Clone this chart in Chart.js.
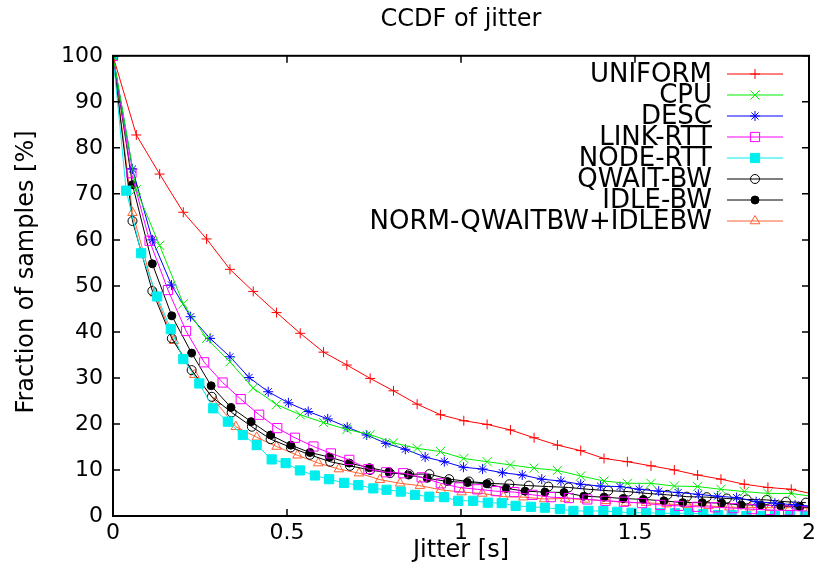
<!DOCTYPE html>
<html>
<head>
<meta charset="utf-8">
<title>CCDF of jitter</title>
<script src="https://cdn.jsdelivr.net/npm/chart.js@4.4.0/dist/chart.umd.min.js"></script>
<style>
  body { margin: 0; background: #fff; }
  canvas { display: block; }
</style>
</head>
<body>
<canvas id="ccdfChart" width="823" height="582"></canvas>
<script>
// values (x = jitter in s, y = fraction of samples in %)
const uniformX = [0, 0.067, 0.134, 0.202, 0.269, 0.336, 0.403, 0.470, 0.538, 0.605, 0.672, 0.739, 0.806, 0.874, 0.941, 1.008, 1.075, 1.142, 1.210, 1.277, 1.344, 1.411, 1.478, 1.546, 1.613, 1.680, 1.747, 1.814, 1.882, 1.949, 2.016];
const uniformY = [100, 82.8, 74.3, 66.0, 60.2, 53.6, 48.8, 44.2, 39.7, 35.6, 32.8, 29.9, 27.2, 24.3, 22.0, 20.7, 19.9, 18.7, 17.0, 15.4, 14.2, 12.5, 11.8, 10.9, 10.0, 8.9, 8.0, 6.9, 6.2, 5.8, 4.7];

const cpuX = [0, 0.067, 0.134, 0.202, 0.269, 0.336, 0.403, 0.470, 0.538, 0.605, 0.672, 0.739, 0.806, 0.874, 0.941, 1.008, 1.075, 1.142, 1.210, 1.277, 1.344, 1.411, 1.478, 1.546, 1.613, 1.680, 1.747, 1.814, 1.882, 1.949, 2.016];
const cpuY = [100, 70.9, 58.8, 46.1, 38.6, 33.5, 27.8, 24.2, 22.0, 20.3, 18.8, 17.7, 15.9, 14.7, 14.0, 12.5, 11.8, 11.1, 10.4, 9.9, 8.7, 7.6, 7.1, 7.1, 6.5, 6.4, 5.8, 5.3, 4.9, 4.9, 4.2];

const descX = [0, 0.056, 0.113, 0.168, 0.223, 0.279, 0.336, 0.391, 0.446, 0.504, 0.561, 0.617, 0.673, 0.729, 0.784, 0.840, 0.897, 0.952, 1.007, 1.062, 1.119, 1.176, 1.232, 1.287, 1.344, 1.401, 1.457, 1.512, 1.568, 1.624, 1.682, 1.737, 1.792, 1.848, 1.902, 1.960, 2.015];
const descY = [100, 75.4, 60.0, 50.2, 43.3, 38.6, 34.6, 30.1, 27.0, 24.6, 22.7, 21.1, 19.3, 17.6, 15.8, 14.5, 12.8, 11.8, 10.6, 10.2, 9.4, 8.9, 8.0, 7.6, 6.9, 6.5, 6.4, 5.8, 5.4, 5.1, 4.7, 4.3, 4.0, 3.1, 2.8, 2.4, 2.1];

const linkX = [0, 0.053, 0.105, 0.158, 0.210, 0.262, 0.315, 0.367, 0.420, 0.472, 0.523, 0.576, 0.626, 0.679, 0.734, 0.785, 0.834, 0.887, 0.942, 0.995, 1.047, 1.100, 1.153, 1.206, 1.258, 1.310, 1.363, 1.415, 1.468, 1.520, 1.573, 1.626, 1.678, 1.730, 1.783, 1.836, 1.888, 1.940, 1.993];
const linkY = [100, 74.5, 59.8, 49.1, 40.2, 33.4, 29.0, 25.4, 22.0, 19.1, 17.0, 15.1, 13.6, 12.2, 10.2, 9.5, 9.3, 8.4, 7.1, 6.2, 5.8, 5.4, 5.2, 4.6, 4.1, 3.9, 3.6, 3.3, 3.1, 2.8, 2.4, 2.2, 2.0, 1.9, 1.7, 1.5, 1.3, 1.2, 1.1];

const nodeX = [0, 0.038, 0.081, 0.127, 0.166, 0.202, 0.248, 0.288, 0.330, 0.373, 0.413, 0.456, 0.496, 0.537, 0.580, 0.621, 0.664, 0.705, 0.748, 0.786, 0.827, 0.868, 0.909, 0.951, 0.992, 1.035, 1.077, 1.117, 1.157, 1.201, 1.241, 1.284, 1.323, 1.366, 1.409, 1.449, 1.490, 1.532, 1.572, 1.615, 1.655, 1.696, 1.739, 1.778, 1.820, 1.861, 1.902, 1.945, 1.989];
const nodeY = [100, 70.7, 57.1, 47.7, 40.6, 34.1, 28.8, 23.4, 20.5, 17.6, 15.4, 12.3, 11.5, 9.9, 8.8, 8.0, 7.2, 6.7, 6.0, 5.7, 5.3, 4.6, 4.2, 4.1, 3.3, 3.3, 2.9, 2.8, 2.2, 2.0, 1.8, 1.5, 1.1, 1.1, 1.1, 0.9, 0.7, 0.7, 0.6, 0.6, 0.6, 0.4, 0.2, 0.2, 0, 0, 0, 0, 0];

const qwaitX = [0, 0.056, 0.113, 0.169, 0.226, 0.284, 0.341, 0.399, 0.453, 0.511, 0.566, 0.624, 0.681, 0.739, 0.796, 0.851, 0.909, 0.966, 1.023, 1.080, 1.139, 1.195, 1.251, 1.309, 1.366, 1.423, 1.481, 1.535, 1.593, 1.649, 1.706, 1.764, 1.821, 1.878, 1.934, 1.991];
const qwaitY = [100, 64.1, 48.9, 38.6, 31.7, 25.9, 22.5, 19.4, 16.7, 14.9, 13.3, 11.8, 10.9, 10.0, 9.3, 9.1, 9.1, 8.0, 7.5, 7.1, 6.9, 6.6, 6.4, 6.2, 5.8, 5.5, 5.3, 4.9, 4.6, 4.2, 4.1, 3.8, 3.6, 3.5, 3.1, 2.9];

const idleX = [0, 0.056, 0.113, 0.169, 0.226, 0.282, 0.339, 0.397, 0.453, 0.511, 0.566, 0.622, 0.679, 0.737, 0.793, 0.849, 0.903, 0.961, 1.018, 1.074, 1.130, 1.184, 1.241, 1.296, 1.353, 1.411, 1.466, 1.524, 1.583, 1.637, 1.693, 1.749, 1.805, 1.861, 1.919, 1.974, 2.031];
const idleY = [100, 72.0, 54.8, 43.5, 35.4, 28.3, 23.6, 20.5, 17.6, 15.4, 13.8, 12.8, 11.5, 10.5, 9.6, 8.9, 8.2, 7.5, 7.3, 7.0, 6.0, 5.4, 5.2, 5.1, 4.3, 4.1, 3.8, 3.6, 3.3, 2.9, 2.9, 2.8, 2.4, 2.4, 2.2, 2.0, 1.9];

const normX = [0, 0.056, 0.120, 0.175, 0.234, 0.295, 0.353, 0.413, 0.470, 0.530, 0.590, 0.649, 0.707, 0.767, 0.825, 0.882, 0.942, 1.002, 1.061, 1.122, 1.179, 1.239, 1.299, 1.356, 1.417, 1.474, 1.532, 1.591, 1.651, 1.711, 1.771, 1.830, 1.888, 1.945, 2.005];
const normY = [100, 65.9, 48.4, 38.1, 30.7, 24.8, 19.4, 17.1, 15.1, 13.2, 11.5, 10.2, 9.3, 7.9, 7.1, 6.6, 5.7, 5.2, 4.9, 4.2, 4.1, 3.7, 3.8, 3.6, 3.3, 2.9, 2.9, 2.6, 2.4, 2.2, 1.9, 1.9, 1.8, 1.8, 1.7];

const xTicks = [0, 0.5, 1, 1.5, 2];
const yTicks = [0, 10, 20, 30, 40, 50, 60, 70, 80, 90, 100];

const FONT = '"DejaVu Sans", sans-serif';

function pts(xs, ys) {
    return xs.map((x, i) => ({ x: x, y: ys[i] }));
}

function series(label, xs, ys, color, style, radius, fill) {
    return {
        label: label,
        data: pts(xs, ys),
        borderColor: color,
        backgroundColor: color,
        borderWidth: 1,
        pointStyle: style,
        pointRadius: radius,
        pointBorderWidth: 1,
        pointBorderColor: color,
        pointBackgroundColor: fill ? color : 'rgba(0,0,0,0)',
        showLine: true,
        tension: 0,
    };
}

// gnuplot-like frame with inward ticks on all four sides, plus the y label
const framePlugin = {
    id: 'frame',
    afterDatasetsDraw(chart) {
        const { ctx, chartArea: a, scales } = chart;
        ctx.save();
        ctx.strokeStyle = '#000';
        ctx.lineWidth = 1.5;
        ctx.beginPath();
        xTicks.forEach(v => {
            const px = scales.x.getPixelForValue(v);
            ctx.moveTo(px, a.bottom); ctx.lineTo(px, a.bottom - 7);
            ctx.moveTo(px, a.top); ctx.lineTo(px, a.top + 7);
        });
        yTicks.forEach(v => {
            const py = scales.y.getPixelForValue(v);
            ctx.moveTo(a.left, py); ctx.lineTo(a.left + 7, py);
            ctx.moveTo(a.right, py); ctx.lineTo(a.right - 7, py);
        });
        ctx.stroke();
        ctx.lineWidth = 2;
        ctx.strokeRect(a.left, a.top, a.right - a.left, a.bottom - a.top);

        ctx.translate(27, 272);
        ctx.rotate(-Math.PI / 2);
        ctx.fillStyle = '#000';
        ctx.font = '24px ' + FONT;
        ctx.textAlign = 'center';
        ctx.textBaseline = 'middle';
        ctx.fillText('Fraction of samples [%]', 0, 0);
        ctx.restore();
    }
};

// key in the top right corner: text right-aligned, sample line with marker to its right
const keyPlugin = {
    id: 'key',
    afterDraw(chart) {
        const ctx = chart.ctx;
        ctx.save();
        ctx.font = '26px ' + FONT;
        ctx.textAlign = 'right';
        ctx.textBaseline = 'middle';
        chart.data.datasets.forEach((ds, i) => {
            const y = 74 + i * 21;
            ctx.fillStyle = '#000';
            ctx.fillText(ds.label, 712, y + 1);
            ctx.strokeStyle = ds.borderColor;
            ctx.lineWidth = 1;
            ctx.beginPath();
            ctx.moveTo(727, y);
            ctx.lineTo(783, y);
            ctx.stroke();
            ctx.fillStyle = ds.pointBackgroundColor;
            Chart.helpers.drawPoint(ctx, {
                pointStyle: ds.pointStyle,
                radius: ds.pointRadius,
                rotation: 0,
                borderWidth: 1
            }, 755, y);
        });
        ctx.restore();
    }
};

const ctx = document.getElementById('ccdfChart');

const ccdfChart = new Chart(ctx, {
    type: 'scatter',
    data: {
        datasets: [
            series('UNIFORM', uniformX, uniformY, '#ff0000', 'cross', 5, false),
            series('CPU', cpuX, cpuY, '#00ee00', 'crossRot', 6.5, false),
            series('DESC', descX, descY, '#0000ff', 'star', 5, false),
            series('LINK-RTT', linkX, linkY, '#ff00ff', 'rect', 6.5, false),
            series('NODE-RTT', nodeX, nodeY, '#00eeee', 'rect', 6.5, true),
            series('QWAIT-BW', qwaitX, qwaitY, '#000000', 'circle', 4.5, false),
            series('IDLE-BW', idleX, idleY, '#000000', 'circle', 4, true),
            series('NORM-QWAITBW+IDLEBW', normX, normY, '#ff6030', 'triangle', 5.5, false),
        ]
    },
    options: {
        responsive: false,
        animation: false,
        events: [],
        color: '#000',
        layout: {
            padding: { left: 0, right: 14, top: 0, bottom: 0 }
        },
        plugins: {
            legend: { display: false },
            tooltip: { enabled: false },
            title: {
                display: true,
                fullSize: false,
                text: 'CCDF of jitter',
                color: '#000',
                font: { family: FONT, size: 24, weight: 'normal' },
                padding: { top: 5, bottom: 22 }
            }
        },
        scales: {
            x: {
                type: 'linear',
                min: 0,
                max: 2,
                afterFit: s => { s.height = 66; },
                afterBuildTicks: s => { s.ticks = xTicks.map(v => ({ value: v })); },
                grid: { display: false, drawTicks: false },
                border: { display: false },
                ticks: {
                    color: '#000',
                    padding: 4,
                    maxRotation: 0,
                    font: { family: FONT, size: 22 },
                    callback: v => String(v)
                },
                title: {
                    display: true,
                    text: 'Jitter [s]',
                    color: '#000',
                    font: { family: FONT, size: 24 },
                    padding: { top: 0, bottom: 17 }
                }
            },
            y: {
                min: 0,
                max: 100,
                afterFit: s => { s.width = 113; },
                afterBuildTicks: s => { s.ticks = yTicks.map(v => ({ value: v })); },
                grid: { display: false, drawTicks: false },
                border: { display: false },
                ticks: {
                    color: '#000',
                    padding: 10,
                    font: { family: FONT, size: 22 },
                    callback: v => String(v)
                }
            }
        }
    },
    plugins: [framePlugin, keyPlugin]
});
</script>
</body>
</html>
